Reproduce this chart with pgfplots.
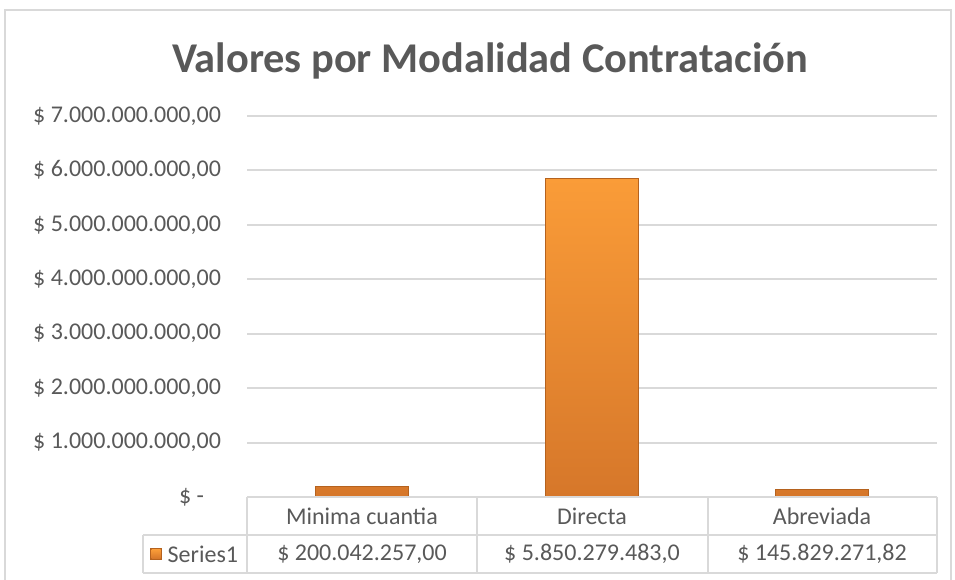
\documentclass[border=0pt]{standalone}
\usepackage{pgfplots}
\pgfplotsset{compat=1.18}
\usepackage{fontspec}
\setmainfont{Carlito}
\definecolor{txt}{HTML}{595959}
\definecolor{gridc}{HTML}{D9D9D9}
\definecolor{barTop}{HTML}{FA9C38}
\definecolor{barBot}{HTML}{D6772A}
\definecolor{barEdge}{HTML}{B5621E}
\begin{document}
\begin{tikzpicture}[x=0.75pt,y=0.75pt]
\useasboundingbox (0,0) rectangle (955,580);
\draw[gridc, line width=1.5pt] (5,0) -- (5,570) -- (951,570) -- (951,0);
\node[text=txt, font=\fontsize{31.8}{36}\selectfont\bfseries] at (490,519) {Valores por Modalidad Contratación};
\begin{axis}[
  at={(185.25pt,62.25pt)}, anchor=south west,
  scale only axis, width=517.5pt, height=285.75pt,
  xmin=-0.5, xmax=2.5, ymin=0, ymax=7000000000,
  axis line style={draw=none},
  xtick=\empty,
  ytick={0,1000000000,2000000000,3000000000,4000000000,5000000000,6000000000,7000000000},
  yticklabels={{\$ -\kern12.75pt\mbox{}},{\$ 1.000.000.000,00},{\$ 2.000.000.000,00},{\$ 3.000.000.000,00},{\$ 4.000.000.000,00},{\$ 5.000.000.000,00},{\$ 6.000.000.000,00},{\$ 7.000.000.000,00}},
  scaled y ticks=false,
  ymajorgrids, grid style={gridc, line width=1.5pt},
  major tick length=0pt,
  yticklabel style={font=\fontsize{18}{21}\selectfont, text=txt, xshift=-16pt},
  ybar, bar width=69.75pt,
]
\addplot[ybar, draw=barEdge, line width=0.8pt, top color=barTop, bottom color=barBot]
  coordinates {(0,200042257) (1,5850279483) (2,145829271.82)};
\end{axis}
% data table
\draw[gridc, line width=1.5pt] (247,83) -- (937,83);
\draw[gridc, line width=1.5pt] (143,45) -- (937,45);
\draw[gridc, line width=1.5pt] (143,7) -- (937,7);
\foreach \xx in {247,477,708,937} \draw[gridc, line width=1.5pt] (\xx,83) -- (\xx,7);
\draw[gridc, line width=1.5pt] (143,45) -- (143,7);
\begin{scope}[every node/.style={text=txt, font=\fontsize{18}{21}\selectfont}]
\node at (362,64) {Minima cuantia};
\node at (592,64) {Directa};
\node at (822,64) {Abreviada};
\node at (362,26) {\$ 200.042.257,00};
\node at (592,26) {\$ 5.850.279.483,0};
\node at (822,26) {\$ 145.829.271,82};
\node[anchor=west] at (163,26) {Series1};
\end{scope}
\fill[barEdge] (150,20) rectangle (162,32);
\shade[top color=barTop, bottom color=barBot] (151.5,21.5) rectangle (160.5,30.5);
\end{tikzpicture}
\end{document}
